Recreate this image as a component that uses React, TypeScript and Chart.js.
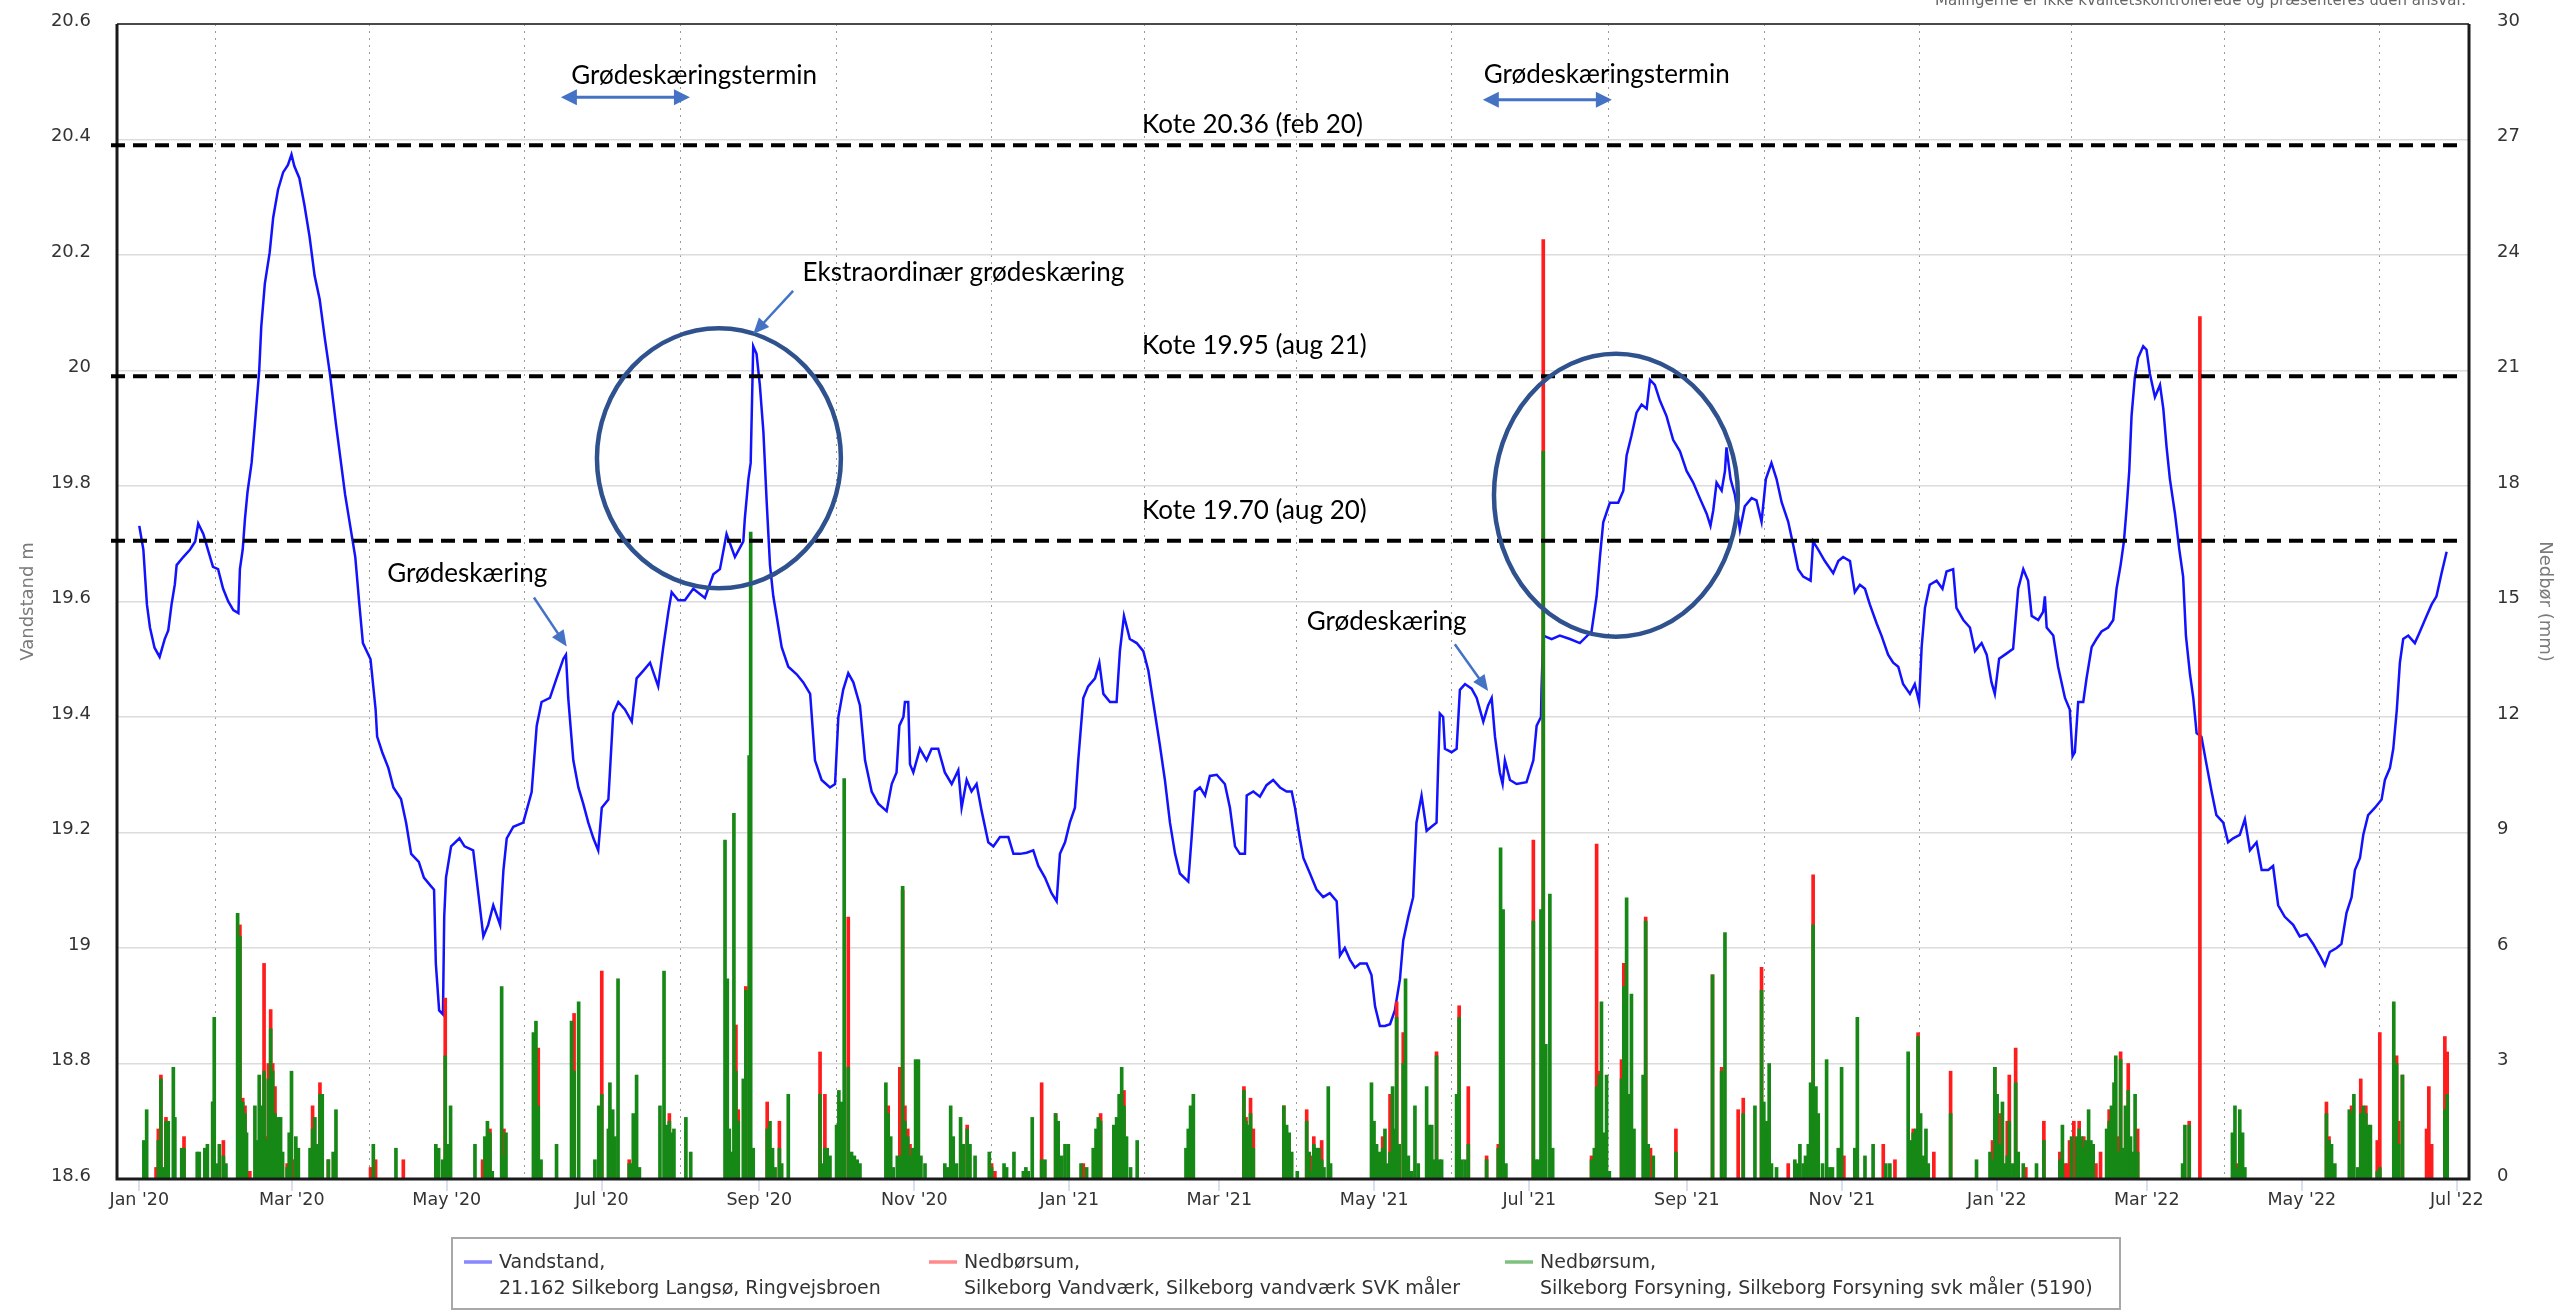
import React, { useEffect, useRef } from 'react';
import { Chart, registerables } from 'chart.js';

Chart.register(...registerables);

// ---------------- DATA ----------------
// x positions are days since 2020-01-01
const monthTickDays = [0, 60, 121, 182, 244, 305, 366, 425, 486, 547, 609, 670, 731, 790, 851, 912];
const monthTickLabels = ["Jan '20", "Mar '20", "May '20", "Jul '20", "Sep '20", "Nov '20", "Jan '21", "Mar '21", "May '21", "Jul '21", "Sep '21", "Nov '21", "Jan '22", "Mar '22", "May '22", "Jul '22"];
const levelTicks = [18.6, 18.8, 19, 19.2, 19.4, 19.6, 19.8, 20, 20.2, 20.4, 20.6];
const rainTicks = [0, 3, 6, 9, 12, 15, 18, 21, 24, 27, 30];

const seriesNames = [
  ['Vandstand,', '21.162 Silkeborg Langsø, Ringvejsbroen'],
  ['Nedbørsum,', 'Silkeborg Vandværk, Silkeborg vandværk SVK måler'],
  ['Nedbørsum,', 'Silkeborg Forsyning, Silkeborg Forsyning svk måler (5190)'],
];

// Vandstand (m)
const levelDays = [
  0, 1.6, 3.0, 4.2, 6.0, 8.0, 10.0, 11.4, 12.7, 14.0,
  14.7, 17.3, 20.0, 22.0, 23.2, 25.2, 27.0, 29.0, 31.0, 33.0,
  35.0, 37.0, 39.0, 39.6, 40.7, 41.6, 42.6, 44.2, 45.5, 47.2,
  48.0, 49.4, 51.3, 52.7, 54.6, 56.6, 58.5, 59.9, 61.0, 63.0,
  65.0, 67.0, 69.0, 71.0, 73.0, 75.0, 77.4, 79.0, 81.0, 83.0,
  85.0, 86.6, 88.0, 91.0, 93.0, 93.6, 95.6, 98.0, 100.0, 103.0,
  105.0, 107.0, 110.0, 112.0, 114.6, 116.0, 116.7, 118.0, 119.5, 120.0,
  120.7, 122.7, 126.0, 128.0, 131.4, 133.4, 135.4, 137.3, 139.3, 142.0,
  143.3, 144.6, 147.2, 151.1, 154.4, 156.4, 158.3, 161.6, 164.2, 166.9,
  167.9, 168.8, 170.8, 172.8, 174.7, 176.7, 178.7, 180.6, 182.0, 184.6,
  186.5, 188.5, 191.1, 193.8, 195.7, 198.3, 201.0, 204.2, 206.2, 208.2,
  209.5, 212.1, 214.7, 218.0, 222.6, 225.9, 228.5, 231.1, 234.4, 237.7,
  238.3, 239.7, 240.6, 241.6, 242.9, 244.2, 245.6, 246.9, 248.2, 249.5,
  250.8, 252.8, 255.4, 258.7, 261.3, 264.0, 265.9, 268.5, 271.8, 273.8,
  275.1, 277.0, 279.0, 281.0, 283.6, 285.6, 288.2, 290.8, 294.1, 296.1,
  298.0, 299.1, 300.7, 301.3, 302.6, 303.3, 304.6, 307.2, 309.8, 311.8,
  314.4, 317.0, 319.7, 322.3, 323.6, 325.6, 327.5, 329.5, 331.5, 334.1,
  336.1, 338.7, 342.0, 344.0, 346.6, 349.2, 351.8, 353.8, 356.4, 359.0,
  361.0, 362.3, 364.3, 366.2, 368.2, 369.5, 371.5, 373.4, 376.1, 377.8,
  379.4, 382.0, 384.6, 385.9, 387.5, 389.8, 392.5, 395.1, 397.1, 399.0,
  401.6, 403.6, 405.6, 407.6, 409.5, 412.8, 414.1, 415.4, 417.4, 419.4,
  421.3, 424.0, 427.2, 429.2, 431.2, 433.1, 435.1, 435.8, 438.4, 441.0,
  443.6, 446.2, 448.9, 451.5, 453.5, 454.8, 456.7, 458.1, 460.7, 463.3,
  465.9, 468.5, 471.2, 472.5, 474.4, 476.4, 478.4, 480.4, 483.0, 484.9,
  486.3, 488.2, 490.2, 492.2, 494.1, 496.1, 497.4, 499.4, 501.3, 502.6,
  504.6, 506.6, 508.5, 510.5, 511.2, 511.8, 513.1, 513.8, 516.4, 518.4,
  519.7, 521.7, 524.3, 526.3, 528.9, 530.8, 532.2, 533.5, 535.4, 536.5,
  537.4, 539.4, 542.0, 545.9, 548.6, 549.9, 551.6, 551.8, 552.5, 555.8,
  559.0, 563.0, 566.9, 571.5, 573.5, 574.8, 576.1, 578.7, 582.0, 584.0,
  585.3, 587.2, 589.2, 591.2, 593.2, 594.5, 596.4, 598.4, 601.0, 603.6,
  606.3, 608.9, 611.5, 614.1, 616.8, 618.3, 619.4, 620.7, 622.7, 624.0,
  624.6, 626.2, 627.9, 629.9, 631.8, 634.5, 636.4, 638.4, 640.1, 642.3,
  644.3, 646.3, 648.9, 650.9, 652.8, 654.8, 657.7, 658.7, 660.7, 663.3,
  666.6, 668.6, 670.5, 673.2, 675.1, 677.1, 679.1, 681.0, 683.7, 685.6,
  688.2, 690.2, 692.2, 694.1, 696.8, 698.7, 700.4, 701.4, 702.7, 704.6,
  707.3, 709.6, 711.2, 713.8, 715.1, 717.8, 720.4, 722.4, 725.0, 727.0,
  728.9, 730.2, 731.9, 734.2, 737.4, 739.4, 741.4, 743.3, 744.7, 747.3,
  749.2, 749.9, 750.6, 753.2, 755.1, 757.8, 759.7, 760.8, 761.7, 763.0,
  765.0, 766.3, 768.3, 770.2, 772.2, 774.8, 776.8, 778.1, 779.7, 781.0,
  782.0, 783.1, 784.0, 785.3, 786.6, 788.6, 789.9, 791.2, 793.2, 795.2,
  796.5, 797.8, 799.1, 801.1, 802.8, 804.3, 805.4, 807.0, 808.3, 809.6,
  811.5, 813.5, 815.5, 817.4, 820.1, 822.0, 824.0, 826.6, 828.6, 830.6,
  833.2, 835.2, 837.8, 839.7, 841.7, 844.3, 847.6, 850.2, 852.9, 855.5,
  858.1, 860.1, 862.0, 864.7, 866.6, 868.6, 870.6, 871.9, 873.9, 875.2,
  877.1, 879.8, 882.4, 883.7, 885.7, 887.0, 888.4, 889.6, 890.9, 892.9,
  895.5, 897.5, 900.1, 902.1, 904.0, 906.0, 908.0,
];
const levelValues = [
  19.731, 19.69, 19.595, 19.555, 19.52, 19.504, 19.535, 19.55, 19.595, 19.63,
  19.663, 19.677, 19.69, 19.704, 19.735, 19.717, 19.69, 19.66, 19.656, 19.622,
  19.6, 19.585, 19.58, 19.656, 19.69, 19.744, 19.79, 19.84, 19.907, 20.0,
  20.076, 20.15, 20.204, 20.265, 20.313, 20.343, 20.356, 20.374, 20.354, 20.333,
  20.286, 20.232, 20.164, 20.123, 20.056, 19.995, 19.907, 19.853, 19.785, 19.731,
  19.677, 19.595, 19.528, 19.5, 19.413, 19.366, 19.339, 19.312, 19.278, 19.258,
  19.217, 19.163, 19.149, 19.122, 19.108, 19.101, 18.973, 18.892, 18.885, 19.054,
  19.122, 19.176, 19.19, 19.176, 19.169, 19.095, 19.02, 19.04, 19.074, 19.04,
  19.135, 19.19, 19.21, 19.217, 19.27, 19.385, 19.426, 19.433, 19.467, 19.501,
  19.508, 19.433, 19.325, 19.278, 19.25, 19.217, 19.19, 19.169, 19.243, 19.257,
  19.406, 19.426, 19.413, 19.392, 19.467, 19.48, 19.494, 19.453, 19.521, 19.582,
  19.616, 19.602, 19.602, 19.622, 19.606, 19.647, 19.656, 19.717, 19.677, 19.704,
  19.744, 19.812, 19.84, 20.042, 20.029, 19.975, 19.894, 19.772, 19.663, 19.609,
  19.575, 19.521, 19.487, 19.474, 19.46, 19.44, 19.325, 19.291, 19.278, 19.284,
  19.4, 19.447, 19.476, 19.46, 19.42, 19.325, 19.271, 19.25, 19.237, 19.284,
  19.304, 19.385, 19.4, 19.426, 19.426, 19.318, 19.304, 19.345, 19.325, 19.345,
  19.345, 19.304, 19.284, 19.308, 19.243, 19.291, 19.271, 19.284, 19.237, 19.183,
  19.176, 19.192, 19.192, 19.163, 19.163, 19.165, 19.169, 19.142, 19.122, 19.095,
  19.081, 19.163, 19.183, 19.217, 19.243, 19.325, 19.433, 19.453, 19.467, 19.494,
  19.44, 19.426, 19.426, 19.514, 19.575, 19.535, 19.528, 19.514, 19.48, 19.426,
  19.352, 19.291, 19.217, 19.163, 19.129, 19.115, 19.19, 19.271, 19.278, 19.264,
  19.298, 19.3, 19.284, 19.243, 19.176, 19.163, 19.163, 19.264, 19.271, 19.262,
  19.282, 19.291, 19.278, 19.271, 19.271, 19.243, 19.19, 19.156, 19.129, 19.101,
  19.088, 19.095, 19.081, 18.987, 19.0, 18.98, 18.966, 18.973, 18.973, 18.953,
  18.899, 18.865, 18.865, 18.868, 18.892, 18.946, 19.013, 19.054, 19.088, 19.217,
  19.264, 19.203, 19.21, 19.217, 19.325, 19.406, 19.4, 19.345, 19.339, 19.345,
  19.447, 19.457, 19.449, 19.433, 19.392, 19.42, 19.433, 19.366, 19.304, 19.284,
  19.325, 19.291, 19.284, 19.287, 19.325, 19.385, 19.4, 19.447, 19.541, 19.535,
  19.541, 19.535, 19.528, 19.548, 19.609, 19.677, 19.737, 19.771, 19.771, 19.792,
  19.853, 19.887, 19.927, 19.941, 19.934, 19.984, 19.975, 19.948, 19.921, 19.88,
  19.86, 19.826, 19.806, 19.779, 19.752, 19.731, 19.758, 19.806, 19.792, 19.826,
  19.867, 19.812, 19.785, 19.724, 19.765, 19.779, 19.775, 19.738, 19.812, 19.84,
  19.812, 19.772, 19.738, 19.697, 19.656, 19.643, 19.636, 19.704, 19.69, 19.67,
  19.649, 19.67, 19.677, 19.67, 19.616, 19.629, 19.622, 19.595, 19.562, 19.541,
  19.508, 19.494, 19.487, 19.457, 19.44, 19.457, 19.426, 19.521, 19.589, 19.629,
  19.636, 19.622, 19.652, 19.656, 19.589, 19.568, 19.555, 19.514, 19.528, 19.508,
  19.46, 19.44, 19.501, 19.508, 19.518, 19.622, 19.656, 19.636, 19.575, 19.568,
  19.582, 19.609, 19.555, 19.541, 19.487, 19.433, 19.413, 19.332, 19.339, 19.426,
  19.426, 19.467, 19.521, 19.535, 19.548, 19.555, 19.568, 19.622, 19.663, 19.704,
  19.758, 19.826, 19.921, 19.988, 20.022, 20.042, 20.036, 19.995, 19.954, 19.975,
  19.934, 19.867, 19.812, 19.752, 19.69, 19.643, 19.541, 19.474, 19.433, 19.372,
  19.366, 19.318, 19.271, 19.23, 19.217, 19.183, 19.19, 19.196, 19.223, 19.169,
  19.183, 19.135, 19.135, 19.142, 19.074, 19.054, 19.04, 19.02, 19.024, 19.007,
  18.987, 18.97, 18.993, 19.0, 19.007, 19.061, 19.088, 19.135, 19.156, 19.196,
  19.23, 19.243, 19.257, 19.291, 19.312, 19.345, 19.413, 19.494, 19.535, 19.541,
  19.528, 19.548, 19.575, 19.595, 19.609, 19.649, 19.686,
];

// Nedbør (mm) — day, Silkeborg Vandværk (red), Silkeborg Forsyning (green)
const rainDays = [
  1.8, 2.9, 6.6, 7.5, 8.5, 9.4, 10.5, 11.4, 13.4, 14.0,
  16.7, 17.6, 22.8, 23.6, 25.8, 26.8, 28.9, 29.5, 30.4, 31.5,
  33.1, 34.1, 38.7, 39.6, 40.7, 41.6, 42.2, 43.5, 45.5, 46.4,
  47.2, 48.1, 49.1, 49.8, 50.8, 51.7, 52.5, 53.4, 54.0, 54.7,
  55.6, 56.4, 58.2, 59.0, 59.9, 60.9, 61.6, 62.6, 67.2, 68.2,
  69.1, 70.0, 71.1, 72.0, 74.4, 76.3, 77.4, 91.0, 92.1, 93.0,
  101.0, 103.9, 116.7, 117.8, 119.4, 120.4, 121.6, 122.5, 132.1, 135.1,
  136.0, 137.0, 138.0, 138.9, 142.6, 143.5, 144.3, 155.1, 156.1, 157.0,
  158.1, 164.2, 170.1, 171.1, 172.9, 179.3, 180.8, 182.0, 184.6, 185.2,
  186.3, 187.2, 188.4, 192.8, 193.7, 194.4, 195.7, 196.8, 204.9, 206.5,
  207.5, 208.6, 209.5, 210.4, 215.1, 217.0, 230.5, 231.4, 232.2, 233.1,
  234.0, 234.8, 235.7, 237.7, 238.7, 240.0, 240.6, 241.6, 247.1, 248.2,
  249.2, 250.2, 251.9, 252.8, 255.4, 267.9, 268.9, 269.8, 270.7, 271.8,
  274.4, 275.3, 276.4, 277.4, 279.0, 280.3, 281.4, 282.5, 283.6, 293.8,
  294.7, 295.7, 296.7, 298.3, 299.3, 300.4, 301.3, 302.4, 303.3, 304.3,
  305.5, 306.6, 307.6, 309.2, 317.0, 318.0, 319.3, 320.3, 321.6, 323.2,
  324.3, 325.8, 326.9, 328.9, 334.5, 335.4, 336.7, 340.3, 341.3, 344.2,
  347.9, 348.9, 349.8, 351.4, 355.1, 356.4, 360.6, 361.6, 363.0, 364.3,
  365.6, 370.6, 371.5, 372.8, 375.4, 376.5, 377.4, 378.3, 383.5, 384.6,
  385.6, 386.6, 387.5, 388.5, 390.1, 392.7, 411.9, 412.8, 413.7, 414.8,
  434.7, 435.5, 436.4, 437.3, 438.4, 450.4, 451.5, 452.5, 453.5, 455.7,
  459.4, 460.4, 461.3, 462.2, 463.3, 464.3, 465.3, 466.2, 467.9, 468.8,
  484.9, 485.9, 486.9, 488.0, 489.3, 490.2, 491.1, 492.2, 493.2, 494.1,
  494.8, 495.8, 497.4, 498.3, 499.4, 500.7, 502.0, 503.3, 506.6, 507.6,
  508.6, 509.5, 510.5, 511.6, 512.5, 518.4, 519.4, 520.4, 521.7, 523.0,
  530.2, 534.8, 535.7, 536.7, 537.8, 548.6, 549.6, 550.5, 551.6, 552.5,
  553.5, 555.1, 556.2, 571.5, 572.6, 573.5, 574.5, 575.4, 576.4, 577.4,
  578.5, 583.3, 584.2, 585.3, 586.3, 587.2, 588.2, 591.8, 592.8, 593.8,
  594.7, 595.8, 604.7, 619.1, 622.7, 624.0, 629.2, 631.2, 635.8, 638.4,
  639.3, 640.4, 641.4, 642.3, 644.3, 648.9, 651.5, 652.4, 653.5, 654.8,
  655.7, 656.8, 657.7, 658.7, 659.8, 660.7, 662.4, 664.0, 665.3, 666.3,
  668.6, 669.9, 670.8, 675.1, 676.1, 679.1, 682.3, 686.3, 687.3, 688.9,
  690.9, 696.1, 697.0, 698.1, 699.1, 700.0, 701.0, 702.0, 703.1, 704.0,
  706.2, 712.8, 723.0, 728.3, 729.3, 730.2, 731.1, 732.2, 733.2, 734.2,
  735.1, 735.9, 737.3, 738.4, 739.4, 741.4, 742.4, 746.6, 749.5, 755.8,
  756.8, 757.8, 758.7, 759.6, 760.4, 761.3, 762.4, 763.4, 764.3, 765.2,
  766.0, 767.1, 768.0, 768.9, 770.0, 771.8, 774.2, 775.2, 776.1, 777.1,
  777.8, 778.8, 779.7, 780.7, 781.6, 782.7, 783.6, 784.7, 785.4, 786.4,
  804.1, 805.0, 806.7, 810.9, 823.7, 824.7, 825.6, 826.6, 827.7, 828.6,
  860.7, 861.7, 862.7, 864.0, 869.7, 870.6, 871.5, 873.0, 874.2, 875.2,
  876.2, 877.1, 878.0, 880.7, 881.7, 887.2, 888.3, 889.1, 890.6, 900.1,
  901.0, 902.1, 907.3, 908.2,
];
const rainVandvaerk = [
  0, 0, 0.3, 1.3, 2.7, 0, 1.6, 0, 0, 0,
  0, 1.1, 0, 0, 0, 0, 2.0, 0, 0, 0,
  1.0, 0, 0, 6.6, 2.1, 1.9, 0, 0.2, 0, 0,
  0, 0, 5.6, 1.1, 3.0, 4.4, 3.0, 2.4, 0, 0,
  0, 0, 0.4, 0, 0, 0.5, 0, 0, 0, 1.9,
  0, 0.9, 2.5, 0, 0.5, 0, 0, 0.3, 0, 0.5,
  0, 0.5, 0, 0, 0, 4.7, 0, 0, 0, 0.5,
  0, 0, 1.3, 0, 0, 1.3, 0, 0, 0, 3.4,
  0, 0, 0, 4.3, 0, 0, 0, 5.4, 0, 0,
  0, 0, 0, 0.5, 0, 0, 0, 0, 0, 0,
  0, 1.7, 0, 0, 0, 0, 0, 0, 0, 0,
  0, 4.0, 1.8, 0, 5.0, 0, 0, 0, 2.0, 0,
  0, 0, 1.5, 0, 0, 3.3, 0, 2.2, 0, 0,
  0, 0, 0, 0, 6.8, 0, 0, 0, 0, 0,
  1.9, 0, 0, 0, 2.9, 7.5, 1.9, 1.3, 0.9, 0,
  0, 0, 0, 0, 0, 0, 0, 0, 0, 0,
  0, 1.4, 0, 0, 0, 0.4, 0.2, 0, 0, 0,
  0, 0, 0, 0, 2.5, 0, 1.7, 0, 0, 0,
  0, 0, 0.4, 0, 0, 0, 0, 1.7, 0, 0,
  0, 0, 2.3, 0, 0, 0, 0, 0, 0, 0,
  2.4, 1.6, 0, 2.1, 1.3, 1.9, 0, 0, 0, 0,
  1.8, 0, 0.6, 1.1, 0, 0, 1.0, 0, 0, 0,
  0, 0, 0, 0, 1.1, 0, 0, 2.2, 0, 0,
  4.6, 0, 3.8, 0, 0, 0, 0, 0, 0, 0,
  0, 0, 3.3, 0, 0, 0, 4.5, 0, 0, 2.4,
  0.6, 0.9, 0, 0, 0, 8.8, 0, 0, 0, 24.4,
  0, 0, 0, 0.6, 0, 8.7, 2.8, 0, 0, 0,
  0, 3.1, 5.6, 0, 0, 0, 0, 0, 6.8, 0,
  0.8, 0, 1.3, 5.3, 2.9, 0, 1.8, 2.1, 0, 5.5,
  0, 0, 0, 0, 0, 0.4, 0, 0, 0, 0,
  0, 0, 0, 7.9, 0, 0, 0, 0, 0, 0,
  0, 0, 0.6, 0, 0, 0, 0, 0.9, 0, 0,
  0.5, 0, 0, 1.3, 0, 3.8, 0, 0, 0, 0,
  0.7, 2.8, 0, 0, 1.0, 2.9, 0, 1.7, 0, 0,
  1.5, 2.7, 0, 3.4, 0, 0, 0.3, 0, 1.5, 0.7,
  0, 0.4, 0.4, 1.0, 0, 1.5, 0, 1.5, 0, 1.1,
  0, 0, 0, 0, 0.4, 0.7, 0, 1.8, 0, 0,
  0, 1.1, 3.3, 0, 0, 3.0, 0, 0, 0, 1.3,
  0, 0, 1.5, 22.4, 0, 0, 0.4, 0, 0, 0,
  2.0, 1.1, 0, 0, 0, 1.9, 0, 0, 2.6, 0,
  1.9, 0, 0, 1.0, 3.8, 0, 3.2, 1.5, 2.7, 1.3,
  2.4, 0.9, 3.7, 3.3,
];
const rainForsyning = [
  1.0, 1.8, 0, 1.0, 2.6, 0.3, 1.5, 1.5, 2.9, 1.6,
  0.8, 0.8, 0.7, 0.7, 0.8, 0.9, 2.0, 4.2, 0.4, 0.9,
  0.6, 0.4, 6.9, 6.3, 2.0, 1.7, 1.2, 0, 1.9, 1.0,
  2.7, 1.9, 2.8, 1.0, 2.6, 3.9, 2.8, 1.7, 1.3, 1.6,
  1.6, 0.7, 0.3, 1.2, 2.8, 0, 1.1, 0.8, 0.8, 1.3,
  1.6, 0.9, 2.2, 2.2, 0.5, 0.7, 1.8, 0, 0.9, 0,
  0.8, 0, 0.9, 0.8, 0.5, 3.2, 0.9, 1.9, 0.9, 0,
  1.1, 1.5, 1.2, 0.2, 5.0, 0.6, 1.2, 3.8, 4.1, 1.9,
  0.5, 0.9, 4.1, 2.8, 4.6, 0.5, 1.9, 2.2, 1.3, 2.5,
  1.8, 1.1, 5.2, 0.4, 0.4, 1.7, 2.7, 0.3, 1.9, 5.4,
  1.4, 1.5, 1.2, 1.3, 1.6, 0.7, 8.8, 5.2, 1.3, 0.7,
  9.5, 2.8, 1.5, 2.6, 4.9, 11.0, 16.8, 0.8, 1.3, 1.5,
  0.8, 0.3, 0.8, 0.4, 2.2, 2.2, 0.4, 0.8, 0.8, 0.6,
  1.4, 2.3, 2.0, 10.4, 2.9, 0.7, 0.6, 0.5, 0.4, 2.5,
  1.7, 1.1, 0.3, 0.6, 0.6, 7.6, 1.5, 1.1, 0.6, 0.8,
  3.1, 3.1, 0.6, 0.4, 0.4, 0.3, 1.9, 1.1, 0.4, 1.6,
  0.9, 1.3, 0.9, 0.6, 0.7, 0.3, 0, 0.4, 0.3, 0.7,
  0.2, 0.3, 0.2, 1.6, 0.5, 0.5, 1.7, 1.5, 0.6, 0.9,
  0.9, 0.4, 0, 0.3, 0.8, 1.3, 1.6, 1.5, 1.4, 1.6,
  2.2, 2.9, 1.9, 1.1, 0.3, 1.0, 0.8, 1.3, 1.9, 2.2,
  2.3, 1.5, 1.4, 1.7, 0.8, 1.9, 1.4, 1.2, 0.7, 0.2,
  1.5, 0.7, 0.2, 0.9, 0.8, 0.8, 0.5, 0.3, 2.4, 0.4,
  2.5, 1.5, 0.9, 0.7, 0.8, 1.3, 0.4, 0.7, 2.4, 1.3,
  4.2, 0.9, 3.0, 5.2, 0.6, 0.2, 1.9, 0.4, 2.4, 1.4,
  1.4, 0.5, 3.2, 0.5, 0.5, 2.2, 4.2, 0.5, 0.5, 0.9,
  0.5, 0.8, 8.6, 7.0, 0.4, 6.7, 0.5, 0.5, 7.0, 18.9,
  3.5, 7.4, 0.8, 0.5, 0.8, 2.4, 2.7, 4.6, 1.2, 2.7,
  0.2, 2.6, 5.0, 7.3, 2.2, 4.8, 1.3, 2.7, 6.7, 0.9,
  0, 0.6, 0.7, 5.3, 2.8, 6.4, 0, 1.7, 1.9, 4.9,
  2.0, 1.5, 3.0, 0.4, 0.3, 0, 0.5, 0.4, 0.9, 0.4,
  0.6, 0.9, 2.5, 6.6, 2.4, 1.7, 0.4, 3.1, 0.3, 0.3,
  0.8, 2.9, 0, 0.8, 4.2, 0.6, 0.9, 0, 0.4, 0.4,
  0, 3.3, 1.0, 1.2, 1.3, 3.7, 1.7, 0.6, 1.3, 0.4,
  0, 1.7, 0.5, 0.7, 0.5, 2.9, 2.2, 0.9, 2.0, 0.4,
  0.6, 1.5, 0.4, 2.5, 0.7, 0.4, 0, 0.4, 1.0, 0.5,
  1.4, 0, 0, 0, 1.1, 0, 1.1, 1.3, 1.1, 0.8,
  1.0, 1.8, 1.0, 0.9, 0, 0, 1.3, 1.5, 1.9, 2.5,
  3.2, 0.7, 3.1, 0.8, 1.9, 2.3, 1.1, 0.7, 2.2, 0.7,
  0.4, 1.4, 1.4, 0, 1.2, 1.9, 0.3, 1.8, 1.2, 0.3,
  1.7, 1.0, 0.9, 0.4, 1.8, 1.7, 2.2, 0.3, 1.7, 1.9,
  1.7, 1.4, 1.4, 0.2, 0.3, 4.6, 3.0, 0.9, 2.7, 0,
  0, 0, 1.8, 2.2,
];

// Hand-drawn reference levels and their notes
const koteLevels = [20.39, 19.99, 19.705];
const koteLabels = ['Kote 20.36 (feb 20)', 'Kote 19.95 (aug 21)', 'Kote 19.70 (aug 20)'];

// ---------------- ANNOTATION LAYOUT (data units: day, level) ----------------
const noteTexts: [string, number, number][] = [
  ['Grødeskæringstermin', 170.0, 20.496],
  ['Grødeskæringstermin', 529.1, 20.498],
  [koteLabels[0], 394.6, 20.412],
  [koteLabels[1], 394.6, 20.029],
  [koteLabels[2], 394.6, 19.742],
  ['Ekstraordinær grødeskæring', 261.0, 20.155],
  ['Grødeskæring', 97.6, 19.633],
  ['Grødeskæring', 459.4, 19.551],
];
const doubleArrows: [number, number, number][] = [
  [165.9, 216.7, 20.473],
  [528.7, 579.5, 20.469],
];
const pointerArrows: [number, number, number, number][] = [
  [257.3, 20.138, 241.6, 20.063],
  [155.3, 19.607, 168.2, 19.522],
  [517.7, 19.526, 530.8, 19.445],
];
const rings: [number, number, number, number][] = [
  [228.1, 19.848, 48.0, 0.225],
  [581.1, 19.784, 48.0, 0.245],
];

const X_MIN = -8.77;
const X_MAX = 916.8;

function arrowHead(ctx: CanvasRenderingContext2D, x1: number, y1: number, x2: number, y2: number, len: number, half: number) {
  const a = Math.atan2(y2 - y1, x2 - x1);
  const c = Math.cos(a), s = Math.sin(a);
  ctx.beginPath();
  ctx.moveTo(x2, y2);
  ctx.lineTo(x2 - len * c + half * s, y2 - len * s - half * c);
  ctx.lineTo(x2 - len * c - half * s, y2 - len * s + half * c);
  ctx.closePath();
  ctx.fill();
}

const overlayPlugin = {
  id: 'overlay',
  afterDraw(chart: any) {
    const ctx: CanvasRenderingContext2D = chart.ctx;
    const a = chart.chartArea;
    const xs = chart.scales.x;
    const ys = chart.scales.y;
    const px = (d: number) => xs.getPixelForValue(d);
    const py = (v: number) => ys.getPixelForValue(v);
    ctx.save();

    // x tick marks
    ctx.strokeStyle = '#ccd6eb';
    ctx.lineWidth = 1.5;
    monthTickDays.forEach((d) => {
      const x = Math.round(px(d));
      ctx.beginPath();
      ctx.moveTo(x, a.bottom);
      ctx.lineTo(x, a.bottom + 12);
      ctx.stroke();
    });

    // plot frame
    ctx.strokeStyle = '#4a4a4a';
    ctx.lineWidth = 2;
    ctx.beginPath();
    ctx.moveTo(a.left, a.top);
    ctx.lineTo(a.right, a.top);
    ctx.stroke();
    ctx.strokeStyle = '#1a1a1a';
    ctx.lineWidth = 3;
    ctx.beginPath();
    ctx.moveTo(a.left, a.top);
    ctx.lineTo(a.left, a.bottom);
    ctx.lineTo(a.right, a.bottom);
    ctx.lineTo(a.right, a.top);
    ctx.stroke();

    // dashed reference levels
    ctx.strokeStyle = '#000';
    ctx.lineWidth = 4;
    ctx.setLineDash([14, 8]);
    koteLevels.forEach((v) => {
      const y = py(v);
      ctx.beginPath();
      ctx.moveTo(a.left - 6, y);
      ctx.lineTo(a.right - 9, y);
      ctx.stroke();
    });
    ctx.setLineDash([]);

    // rings
    ctx.strokeStyle = '#2f528f';
    ctx.lineWidth = 4.5;
    rings.forEach(([d, v, rd, rv]) => {
      const cx = px(d), cy = py(v);
      const rx = Math.abs(px(d + rd) - cx);
      const ry = Math.abs(py(v + rv) - cy);
      ctx.beginPath();
      ctx.ellipse(cx, cy, rx, ry, 0, 0, Math.PI * 2);
      ctx.stroke();
    });

    // arrows
    ctx.strokeStyle = '#4472c4';
    ctx.fillStyle = '#4472c4';
    ctx.lineWidth = 3;
    doubleArrows.forEach(([d1, d2, v]) => {
      const x1 = px(d1), x2 = px(d2), y = py(v);
      ctx.beginPath();
      ctx.moveTo(x1 + 8, y);
      ctx.lineTo(x2 - 8, y);
      ctx.stroke();
      arrowHead(ctx, x2, y, x1, y, 16, 8);
      arrowHead(ctx, x1, y, x2, y, 16, 8);
    });
    ctx.lineWidth = 2.5;
    pointerArrows.forEach(([d1, v1, d2, v2]) => {
      const x1 = px(d1), y1 = py(v1), x2 = px(d2), y2 = py(v2);
      const ang = Math.atan2(y2 - y1, x2 - x1);
      ctx.beginPath();
      ctx.moveTo(x1, y1);
      ctx.lineTo(x2 - 8 * Math.cos(ang), y2 - 8 * Math.sin(ang));
      ctx.stroke();
      arrowHead(ctx, x1, y1, x2, y2, 16, 7);
    });

    // note texts (Calibri-like; scale so that the termin label is ~246px wide)
    ctx.font = '26px Lato';
    const w = ctx.measureText('Grødeskæringstermin').width || 246;
    const fs = 26 * 246 / w;
    ctx.font = `${fs.toFixed(2)}px Lato`;
    ctx.fillStyle = '#000';
    ctx.textAlign = 'left';
    ctx.textBaseline = 'alphabetic';
    noteTexts.forEach(([t, d, v]) => {
      ctx.fillText(t, px(d), py(v));
    });

    // axis titles
    ctx.font = '18px "DejaVu Sans"';
    ctx.fillStyle = '#7a7a7a';
    ctx.textAlign = 'center';
    ctx.textBaseline = 'middle';
    const midY = (a.top + a.bottom) / 2;
    ctx.save();
    ctx.translate(28, midY);
    ctx.rotate(-Math.PI / 2);
    ctx.fillText('Vandstand m', 0, 0);
    ctx.restore();
    ctx.save();
    ctx.translate(2545, midY);
    ctx.rotate(Math.PI / 2);
    ctx.fillText('Nedbør (mm)', 0, 0);
    ctx.restore();

    // clipped disclaimer at the very top
    ctx.font = '15px "DejaVu Sans"';
    ctx.fillStyle = '#666';
    ctx.textAlign = 'right';
    ctx.textBaseline = 'alphabetic';
    ctx.fillText('Målingerne er ikke kvalitetskontrollerede og præsenteres uden ansvar.', 2466, 5);

    // legend box
    ctx.strokeStyle = '#a8a8a8';
    ctx.lineWidth = 2;
    ctx.strokeRect(452, 1238, 1668, 71);
    const legendItems = [
      { sx: 464, tx: 499, color: 'rgba(70,70,255,0.65)' },
      { sx: 929, tx: 964, color: 'rgba(255,60,60,0.6)' },
      { sx: 1505, tx: 1540, color: 'rgba(40,150,40,0.6)' },
    ];
    ctx.font = '19px "DejaVu Sans"';
    ctx.fillStyle = '#333';
    ctx.textAlign = 'left';
    legendItems.forEach((it, i) => {
      ctx.strokeStyle = it.color;
      ctx.lineWidth = 3.5;
      ctx.beginPath();
      ctx.moveTo(it.sx, 1262);
      ctx.lineTo(it.sx + 28, 1262);
      ctx.stroke();
      ctx.fillText(seriesNames[i][0], it.tx, 1268);
      ctx.fillText(seriesNames[i][1], it.tx, 1294);
    });

    ctx.restore();
  },
};

export default function App() {
  const ref = useRef<HTMLCanvasElement | null>(null);

  useEffect(() => {
    if (!ref.current) return;
    const linePts = levelDays.map((d, i) => ({ x: d, y: levelValues[i] }));
    const redPts = rainDays.map((d, i) => ({ x: d, y: rainVandvaerk[i] })).filter((p) => p.y > 0);
    const greenPts = rainDays.map((d, i) => ({ x: d, y: rainForsyning[i] })).filter((p) => p.y > 0);

    const chart = new Chart(ref.current, {
      type: 'bar',
      data: {
        datasets: [
          {
            type: 'line',
            label: seriesNames[0].join(' '),
            data: linePts,
            yAxisID: 'y',
            borderColor: '#1212ff',
            borderWidth: 2.5,
            pointRadius: 0,
            tension: 0,
            order: 2,
          } as any,
          {
            type: 'bar',
            label: seriesNames[1].join(' '),
            data: redPts,
            yAxisID: 'y1',
            backgroundColor: 'rgb(255,28,28)',
            borderWidth: 0,
            barThickness: 3,
            grouped: false,
            order: 1,
          } as any,
          {
            type: 'bar',
            label: seriesNames[2].join(' '),
            data: greenPts,
            yAxisID: 'y1',
            backgroundColor: 'rgb(22,136,22)',
            borderWidth: 0,
            barThickness: 3,
            grouped: false,
            order: 0,
          } as any,
        ],
      },
      options: {
        responsive: false,
        maintainAspectRatio: false,
        animation: false,
        devicePixelRatio: 1,
        layout: { padding: { top: 24, left: 0, right: 0, bottom: 0 } },
        plugins: {
          legend: { display: false },
          tooltip: { enabled: false },
        },
        scales: {
          x: {
            type: 'linear',
            min: X_MIN,
            max: X_MAX,
            offset: false,
            afterBuildTicks: (s: any) => {
              s.ticks = monthTickDays.map((v) => ({ value: v }));
            },
            afterFit: (s: any) => {
              s.height = 132;
              s.paddingLeft = 0;
              s.paddingRight = 0;
            },
            ticks: {
              autoSkip: false,
              maxRotation: 0,
              minRotation: 0,
              padding: 11,
              color: '#333',
              font: { size: 17.5, family: 'DejaVu Sans' },
              callback: (_v: any, i: number) => monthTickLabels[i],
            },
            grid: { display: true, drawOnChartArea: true, drawTicks: false, color: '#9a9a9a', lineWidth: 1 },
            border: { display: false, dash: [2, 5] },
          },
          y: {
            type: 'linear',
            position: 'left',
            min: 18.6,
            max: 20.6,
            afterBuildTicks: (s: any) => {
              s.ticks = levelTicks.map((v) => ({ value: v }));
            },
            afterFit: (s: any) => {
              s.width = 117;
              s.paddingTop = 0;
              s.paddingBottom = 0;
            },
            ticks: {
              padding: 26,
              labelOffset: -3,
              color: '#333',
              font: { size: 18, family: 'DejaVu Sans' },
              callback: (v: any) => String(Math.round(Number(v) * 10) / 10),
            },
            grid: { color: '#dcdcdc', lineWidth: 1.5, drawTicks: false },
            border: { display: false },
          },
          y1: {
            type: 'linear',
            position: 'right',
            min: 0,
            max: 30,
            afterBuildTicks: (s: any) => {
              s.ticks = rainTicks.map((v) => ({ value: v }));
            },
            afterFit: (s: any) => {
              s.width = 91;
              s.paddingTop = 0;
              s.paddingBottom = 0;
            },
            ticks: {
              padding: 28,
              labelOffset: -3,
              color: '#333',
              font: { size: 18, family: 'DejaVu Sans' },
              callback: (v: any) => String(v),
            },
            grid: { display: false, drawOnChartArea: false, drawTicks: false },
            border: { display: false },
          },
        },
      } as any,
      plugins: [overlayPlugin],
    });
    return () => chart.destroy();
  }, []);

  return (
    <div style={{ position: 'fixed', left: 0, top: 0, width: 2560, height: 1311, background: '#fff' }}>
      <canvas ref={ref} width={2560} height={1311} style={{ display: 'block', width: 2560, height: 1311 }} />
    </div>
  );
}
